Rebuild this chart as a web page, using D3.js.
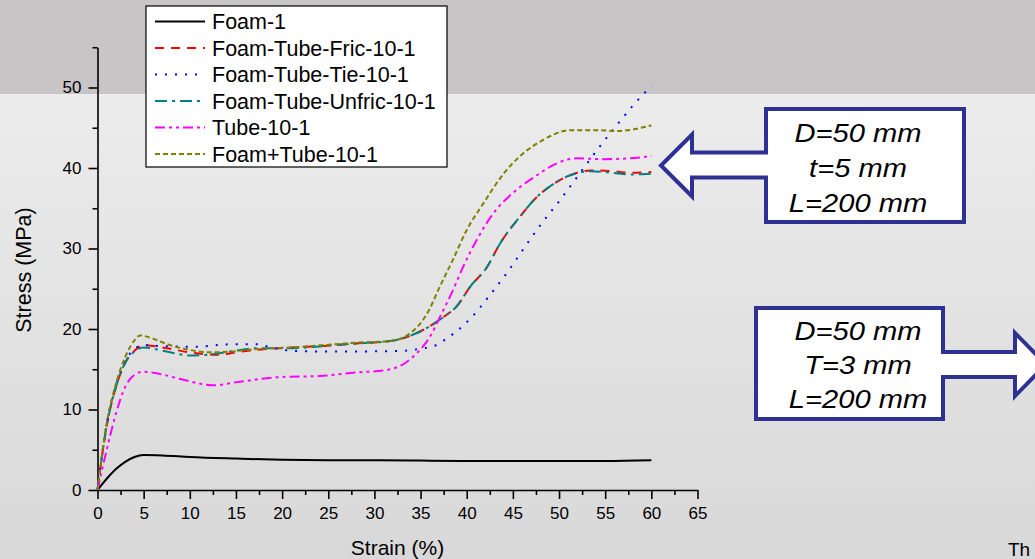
<!DOCTYPE html>
<html><head><meta charset="utf-8">
<script src="https://cdn.jsdelivr.net/npm/d3@7/dist/d3.min.js"></script>
<style>
html,body{margin:0;padding:0;background:#e6e6e6;}
svg{display:block;font-family:"Liberation Sans",Arial,sans-serif;}
</style></head>
<body><svg id="c" width="1035" height="559"></svg>
<script>
// ---- data ----
const seriesNames = ["Foam-1","Foam-Tube-Fric-10-1","Foam-Tube-Tie-10-1","Foam-Tube-Unfric-10-1","Tube-10-1","Foam+Tube-10-1"];
const foamStrain = [0,1,2,3,4,5,7,10,15,20,25,30,35,40,45,50,55,60];
const foamStress = [0,1.4,2.6,3.5,4.1,4.35,4.3,4.1,3.9,3.75,3.7,3.7,3.65,3.6,3.6,3.6,3.6,3.7];
const fricStrain = [0,1,2,3,4,5,7.5,10,13,15.5,19.5,24.5,28,31.7,34.6,37.5,38.9,40.4,42.2,43.6,45.8,47.6,49,51.2,53.4,55.8,57.7,60];
const fricStress = [0,8,12.8,15.8,17.3,18.0,17.6,17.1,16.8,17.2,17.6,17.9,18.2,18.5,19.5,21.5,22.8,25.3,27.7,30.6,34.0,36.4,37.7,39.1,39.7,39.6,39.4,39.5];
const tieStrain = [0,1,2,3,4,5,6.5,10.5,14.4,17.2,18.5,21,25,32,35.3,36.7,37.8,39.3,40.4,42.5,44.5,46.3,48.1,50.1,52.1,54.1,56.1,58.2,60];
const tieStress = [0,8.2,13,16,17.5,18.0,17.9,17.8,18.1,18.1,17.8,17.3,17.2,17.25,17.6,18.0,18.8,20.1,21.3,24.2,27.2,30.2,33.1,36.0,39.1,42.2,45.1,48.0,50.2];
const unfricStrain = [0,1,2,3,4,5,7.5,10,12,15,17,21,24.5,28,31.7,34.6,37.5,38.9,40.4,42.2,43.6,45.8,47.6,49,51.2,53.4,55.8,57.7,60];
const unfricStress = [0,8,12.8,15.8,17.2,17.7,17.2,16.7,16.8,17.3,17.6,17.6,17.9,18.2,18.5,19.5,21.5,22.8,25.3,27.7,30.6,34.0,36.4,37.7,39.1,39.6,39.4,39.2,39.3];
const tubeStrain = [0,1,2,3,4,5,6.4,9.3,12.5,15.4,19.4,24.5,28.1,31.3,33.5,34.6,36,37.1,38.5,39.6,41.1,42.9,45,47.6,49.8,51.9,54.8,57.7,60];
const tubeStress = [0,5,9.5,12.8,14.3,14.7,14.5,13.7,13.0,13.45,14.0,14.2,14.6,14.9,15.9,17.0,19.0,21.5,24.8,27.7,31.1,34.4,36.9,39.1,40.6,41.2,41.1,41.2,41.5];
const sumStrain = [0,1,1.9,3,4,4.6,6,7.85,10,12.2,14.4,17.2,20.9,24.5,28.1,31.7,33.9,35.7,37.1,38.5,40,41.8,44,46.1,48.3,51.2,54.1,56.3,60];
const sumStress = [0,8.3,12.8,16.5,18.6,19.2,18.8,18.0,17.4,17.1,17.2,17.5,17.7,18.0,18.3,18.5,19.5,21.9,25.3,28.6,32.3,35.6,39.3,41.8,43.5,44.7,44.7,44.6,45.3];
const xTicks = [0,5,10,15,20,25,30,35,40,45,50,55,60,65];
const yTicks = [0,10,20,30,40,50];
const box1Lines = ["D=50 mm","t=5 mm","L=200 mm"];
const box2Lines = ["D=50 mm","T=3 mm","L=200 mm"];

// ---- styles ----
const styles = [
  {color:"#000000", dash:null},
  {color:"#ff0000", dash:"9,7"},
  {color:"#0000ff", dash:"2,8"},
  {color:"#008080", dash:"12,5,3,5"},
  {color:"#ff00ff", dash:"10,4,3,4,3,4"},
  {color:"#808000", dash:"5,3"}
];
const series = [
  [foamStrain,foamStress],[fricStrain,fricStress],[tieStrain,tieStress],
  [unfricStrain,unfricStress],[tubeStrain,tubeStress],[sumStrain,sumStress]
].map((s,i)=>({name:seriesNames[i], pts:s[0].map((x,j)=>[x,s[1][j]]), st:styles[i]}));

const svg = d3.select("#c");
const defs = svg.append("defs");
const g1 = defs.append("linearGradient").attr("id","bg").attr("x1",0).attr("y1",0).attr("x2",0).attr("y2",1);
g1.append("stop").attr("offset","0%").attr("stop-color","#f0f0f0");
g1.append("stop").attr("offset","100%").attr("stop-color","#d8d8d8");

svg.append("rect").attr("x",0).attr("y",0).attr("width",1035).attr("height",559).attr("fill","url(#bg)");
svg.append("rect").attr("x",0).attr("y",0).attr("width",1035).attr("height",94).attr("fill","#c7c5c6");

const x = d3.scaleLinear().domain([0,65]).range([97.5,697.5]);
const y = d3.scaleLinear().domain([0,55]).range([490,47.25]);

// axes
const minorX = d3.range(2.5,65,5);
const minorY = d3.range(5,56,10);
const ax = svg.append("g").attr("transform","translate(0,490)");
ax.call(d3.axisBottom(x).tickValues(xTicks).tickSize(9).tickSizeOuter(0).tickPadding(8).tickFormat(d3.format("d")));
ax.append("g").call(d3.axisBottom(x).tickValues(minorX).tickSize(5).tickFormat("")).select(".domain").remove();
const ay = svg.append("g").attr("transform","translate(97.5,0)");
ay.call(d3.axisLeft(y).tickValues(yTicks).tickSize(9).tickSizeOuter(0).tickPadding(7).tickFormat(d3.format("d")));
ay.append("g").call(d3.axisLeft(y).tickValues(minorY).tickSize(5).tickFormat("")).select(".domain").remove();
svg.selectAll(".tick text").attr("font-size",17).attr("font-family","'Liberation Sans',Arial,sans-serif").attr("fill","#000");
svg.selectAll(".domain, .tick line").attr("stroke","#000").attr("stroke-width",1.6);

svg.append("text").attr("x",397.5).attr("y",555).attr("text-anchor","middle").attr("font-size",21).text("Strain (%)");
svg.append("text").attr("transform","translate(31,270) rotate(-90)").attr("text-anchor","middle").attr("font-size",21.5).text("Stress (MPa)");

// curves
const line = d3.line().x(d=>x(d[0])).y(d=>y(d[1])).curve(d3.curveMonotoneX);
svg.append("g").selectAll("path").data(series).join("path")
  .attr("d",d=>line(d.pts)).attr("fill","none")
  .attr("stroke",d=>d.st.color).attr("stroke-width",2)
  .attr("stroke-dasharray",d=>d.st.dash);

// legend
const lg = svg.append("g");
lg.append("rect").attr("x",146).attr("y",6).attr("width",301).attr("height",161).attr("fill","#fff").attr("stroke","#000").attr("stroke-width",1.2);
series.forEach((s,i)=>{
  const cy = 21.5 + i*26.5;
  lg.append("line").attr("x1",155).attr("x2",205).attr("y1",cy).attr("y2",cy)
    .attr("stroke",s.st.color).attr("stroke-width",2).attr("stroke-dasharray",s.st.dash);
  lg.append("text").attr("x",212).attr("y",cy+7.5).attr("font-size",21.5).text(s.name);
});

// callouts
const co = svg.append("g").attr("fill","#fff").attr("stroke","#2e3192").attr("stroke-width",4).attr("stroke-linejoin","miter");
co.append("path").attr("d","M766,109 L964,109 L964,222 L766,222 L766,177.5 L692,177.5 L692,196.5 L661,165.5 L692,134.5 L692,152.5 L766,152.5 Z");
co.append("path").attr("d","M756,308 L943,308 L943,352 L1015,352 L1015,333 L1046,364.5 L1015,396 L1015,377 L943,377 L943,419 L756,419 Z");

function boxText(lines, ys){
  lines.forEach((t,i)=>{
    svg.append("g").attr("transform",`translate(858,${ys[i]}) scale(1.12,1)`)
      .append("text").attr("x",0).attr("y",0).attr("text-anchor","middle")
      .attr("font-size",26).attr("font-style","italic").attr("fill","#000").text(t);
  });
}
boxText(box1Lines,[141.7,177,211.7]);
boxText(box2Lines,[340,373.5,408]);

svg.append("text").attr("x",1008).attr("y",556).attr("font-size",19).attr("fill","#000").text("Th");
</script></body></html>
